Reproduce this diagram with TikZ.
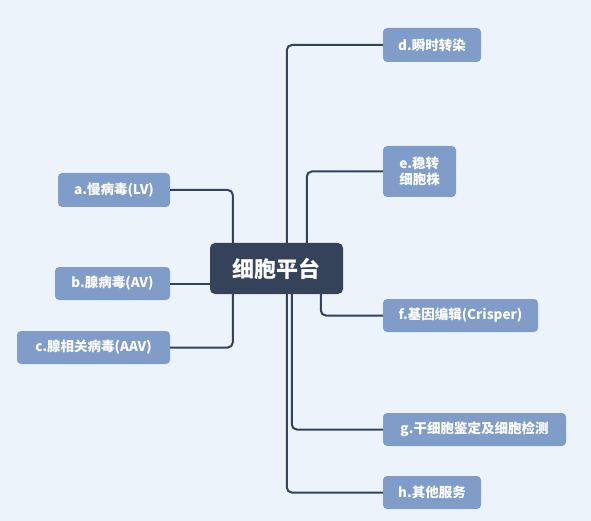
\documentclass[tikz,border=0pt]{standalone}
\usepackage{fontspec}
\setmainfont{Noto Sans CJK SC}
\definecolor{bgc}{HTML}{EDF3FA}
\definecolor{leafc}{HTML}{7F9DC8}
\definecolor{rootc}{HTML}{34435A}
\definecolor{linec}{HTML}{34435A}
\begin{document}
\begin{tikzpicture}[x=1pt,y=-1pt,
  leaf/.style={fill=leafc,rounded corners=4pt,text=white,font=\bfseries\fontsize{13.5}{16}\selectfont,inner sep=0pt,align=left},
  rootbox/.style={fill=rootc,rounded corners=5pt,text=white,font=\bfseries\fontsize{22}{26}\selectfont,inner sep=0pt,minimum width=133pt,minimum height=51pt},
  conn/.style={draw=linec,line width=2pt,rounded corners=5pt}]
\fill[bgc] (0,0) rectangle (591,521);
\useasboundingbox (0,0) rectangle (591,521);
\node[rootbox] (root) at (276.5,268.5) {细胞平台};
\node[leaf,minimum width=112pt,minimum height=34pt] (a) at (114,190) {a.慢病毒(LV)};
\node[leaf,minimum width=115pt,minimum height=33pt] (b) at (112.5,283.5) {b.腺病毒(AV)};
\node[leaf,minimum width=153pt,minimum height=33pt] (c) at (93.5,347.5) {c.腺相关病毒(AAV)};
\node[leaf,minimum width=98pt,minimum height=34pt] (d) at (432,45) {d.瞬时转染};
\node[leaf,minimum width=73pt,minimum height=51pt] (e) at (419.5,171.5) {e.稳转\\细胞株};
\node[leaf,minimum width=155pt,minimum height=33pt] (f) at (460.5,315.5) {f.基因编辑(Crisper)};
\node[leaf,minimum width=183pt,minimum height=33pt] (g) at (474.5,429.5) {g.干细胞鉴定及细胞检测};
\node[leaf,minimum width=98pt,minimum height=33pt] (h) at (432,492.5) {h.其他服务};
\draw[conn] (a.east) -| ([xshift=23pt]root.north west);
\draw[conn] (b.east) -- (b.east -| root.west);
\draw[conn] (c.east) -| ([xshift=23pt]root.south west);
\draw[conn] (d.west) -| ([xshift=77pt]root.north west);
\draw[conn] (e.west) -| ([xshift=97pt]root.north west);
\draw[conn] (f.west) -| ([xshift=111pt]root.south west);
\draw[conn] (g.west) -| ([xshift=82pt]root.south west);
\draw[conn] (h.west) -| ([xshift=77pt]root.south west);
\end{tikzpicture}
\end{document}
